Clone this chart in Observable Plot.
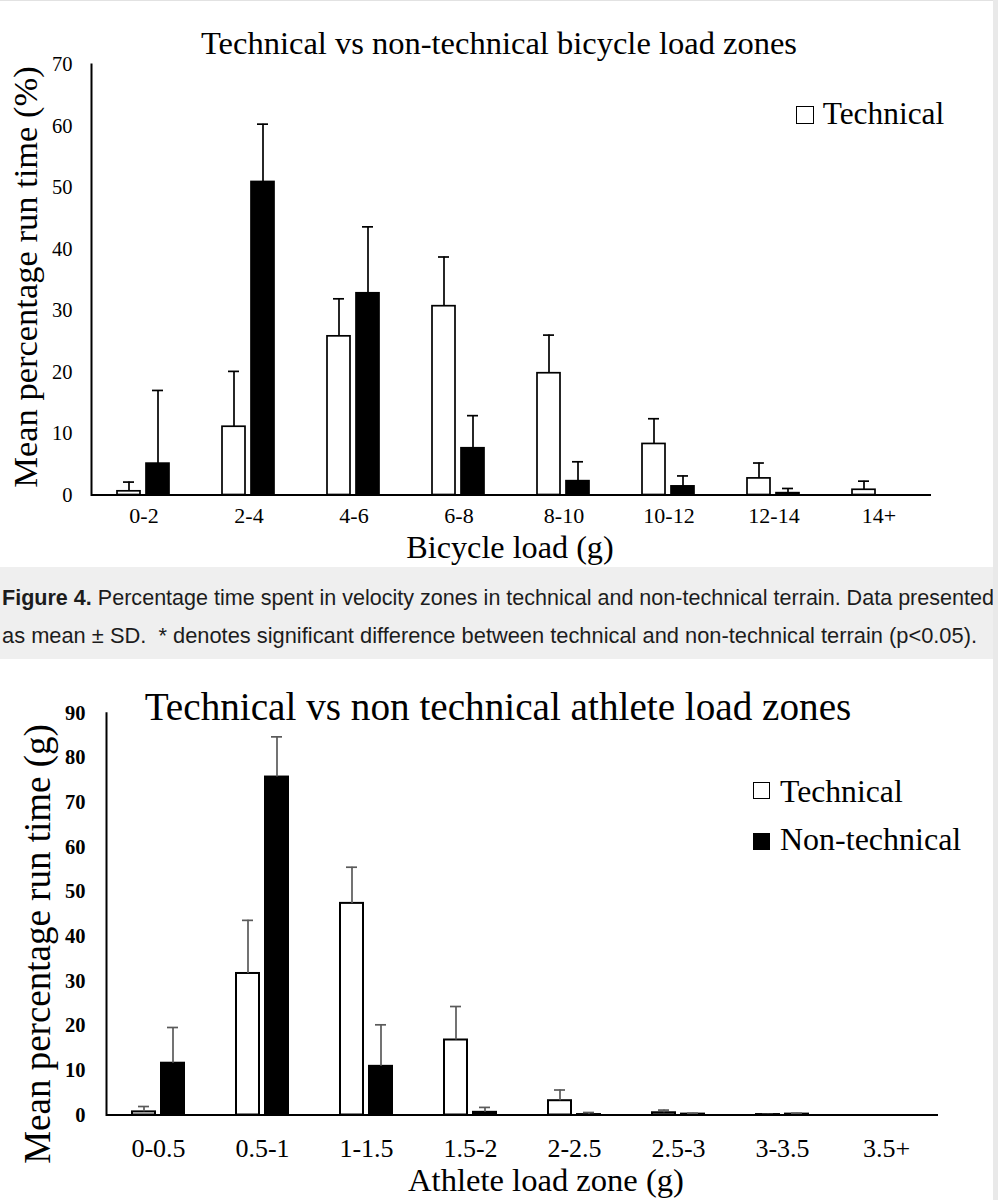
<!DOCTYPE html>
<html><head><meta charset="utf-8">
<script src="https://cdn.jsdelivr.net/npm/d3@7"></script>
<script src="https://cdn.jsdelivr.net/npm/@observablehq/plot@0.6"></script>
<style>
html,body{margin:0;padding:0;background:#e9e9e9;}
#page{width:993px;height:1200px;position:relative;background:#fff;color:#000;overflow:hidden;border-top:1px solid #e2e2e2;box-sizing:border-box;}
.panel{position:absolute;left:0;width:993px;}
.panel svg{position:absolute;left:0;top:0;}
.t{position:absolute;white-space:nowrap;line-height:0.7;}
.sq{position:absolute;box-sizing:border-box;border:1.6px solid #000;}
</style></head><body>
<div id="page">
  <div id="topPanel" class="panel" style="top:0;height:566px;"></div>
  <div id="capPanel" class="panel" style="top:566px;height:92px;background:#efefef;"></div>
  <div id="botPanel" class="panel" style="top:658px;height:542px;"></div>
</div>
<script>
// ---------- data ----------
const seriesNames = ["Technical", "Non-technical"];

const bikeZones    = ["0-2","2-4","4-6","6-8","8-10","10-12","12-14","14+"];
const bikeTechMean = [0.6, 11.1, 25.8, 30.7, 19.8, 8.3, 2.7, 0.85];
const bikeTechSD   = [1.5, 9.0, 6.1, 8.0, 6.2, 4.1, 2.5, 1.4];
const bikeNonMean  = [5.1, 50.9, 32.8, 7.6, 2.25, 1.4, 0.3, 0];
const bikeNonSD    = [11.9, 9.4, 10.8, 5.3, 3.15, 1.7, 0.76, 0];
const bikeYTicks   = [0, 10, 20, 30, 40, 50, 60, 70];

const athZones     = ["0-0.5","0.5-1","1-1.5","1.5-2","2-2.5","2.5-3","3-3.5","3.5+"];
const athTechMean  = [0.7, 31.7, 47.4, 16.8, 3.2, 0.5, 0.1, 0];
const athTechSD    = [1.2, 11.9, 8.1, 7.5, 2.4, 0.6, 0.05, 0];
const athNonMean   = [11.6, 75.7, 10.9, 0.6, 0.1, 0.2, 0.2, 0];
const athNonSD     = [8.0, 9.0, 9.3, 1.1, 0.46, 0.2, 0.2, 0];
const athYTicks    = [0, 10, 20, 30, 40, 50, 60, 70, 80, 90];

// ---------- helpers ----------
const SERIF = '"Liberation Serif","Times New Roman",serif';
const SANS = '"Liberation Sans",Arial,sans-serif';
// baseline offset from the box top for line-height 0.7
const ASC_SERIF = (0.7 - 1.107) / 2 + 0.891;
const ASC_SANS = (0.7 - 1.117) / 2 + 0.905;
function addText(parent, str, o) {
  const d = document.createElement("div");
  d.className = "t";
  d.textContent = str;
  const asc = o.family === SANS ? ASC_SANS : ASC_SERIF;
  d.style.fontFamily = o.family || SERIF;
  d.style.fontSize = o.size + "px";
  if (o.weight) d.style.fontWeight = o.weight;
  if (o.rotate) {
    d.style.left = (o.x - asc * o.size) + "px";
    d.style.top = o.y + "px";
    d.style.transformOrigin = "0 0";
    d.style.transform = "rotate(-90deg) translateX(-50%)";
  } else {
    d.style.top = (o.y - asc * o.size) + "px";
    d.style.left = o.x + "px";
    if (o.anchor === "middle") d.style.transform = "translateX(-50%)";
  }
  parent.appendChild(d);
  return d;
}
function addSquare(parent, x, y, s, fill) {
  const d = document.createElement("div");
  d.className = "sq";
  Object.assign(d.style, {left: x + "px", top: y + "px", width: s + "px", height: s + "px", background: fill});
  parent.appendChild(d);
}
function rows(zones, tm, ts, nm, ns) {
  const out = [];
  zones.forEach((z, i) => {
    out.push({zone: z, series: seriesNames[0], mean: tm[i], sd: ts[i]});
    out.push({zone: z, series: seriesNames[1], mean: nm[i], sd: ns[i]});
  });
  return out;
}
function chart(data, zones, o) {
  const err = data.filter(d => d.sd > 0);
  return Plot.plot({
    width: 993, height: o.height,
    marginLeft: o.ml, marginRight: o.mr, marginTop: o.mt, marginBottom: o.mb,
    style: {fontFamily: SERIF, color: "#000", background: "transparent", overflow: "visible"},
    fx: {domain: zones, padding: 0, label: null},
    x: {domain: seriesNames, paddingInner: 0.2, paddingOuter: 0.86, axis: null},
    y: {domain: [0, o.ymax], label: null},
    color: {domain: seriesNames, range: ["#ffffff", "#000000"]},
    marks: [
      Plot.barY(data, {fx: "zone", x: "series", y: "mean", fill: "series", stroke: "#000", strokeWidth: o.barStroke}),
      Plot.ruleX(err, {fx: "zone", x: "series", y1: "mean", y2: d => d.mean + d.sd, stroke: o.errColor, strokeWidth: 1.7}),
      Plot.tickY(err, {fx: "zone", x: "series", y: d => d.mean + d.sd, stroke: o.errColor, strokeWidth: 1.7, insetLeft: 6, insetRight: 6}),
      Plot.ruleY([0], {stroke: "#000", strokeWidth: 2}),
      Plot.frame({anchor: "left", facetAnchor: "left", stroke: "#000", strokeWidth: 2}),
      Plot.axisY({ticks: o.yticks, tickSize: 0, tickPadding: o.ypad, fontSize: o.yfs, fontWeight: o.yweight, label: null}),
      Plot.axisFx({anchor: "bottom", tickSize: 0, tickPadding: o.xpad, fontSize: o.xfs, label: null})
    ]
  });
}

// ---------- top chart ----------
const topEl = document.getElementById("topPanel");
topEl.appendChild(chart(rows(bikeZones, bikeTechMean, bikeTechSD, bikeNonMean, bikeNonSD), bikeZones, {
  height: 566, ml: 89, mr: 60, mt: 63, mb: 72.5, ymax: 70, yticks: bikeYTicks,
  ypad: 19, yfs: 20.5, yweight: "normal", xpad: 12, xfs: 22, errColor: "#000", barStroke: 1.7
}));
addText(topEl, "Technical vs non-technical bicycle load zones", {x: 499, y: 53, size: 32.5, anchor: "middle"});
addText(topEl, "Bicycle load (g)", {x: 510, y: 557, size: 32.2, anchor: "middle"});
addText(topEl, "Mean percentage run time (%)", {x: 37, y: 276, size: 34.5, rotate: true});
addSquare(topEl, 796, 105, 17.5, "#fff");
addText(topEl, seriesNames[0], {x: 822.7, y: 124, size: 31.4});

// ---------- caption ----------
const capEl = document.getElementById("capPanel");
function capLine(html, baseline, targetW) {
  const d = document.createElement("div");
  d.className = "t";
  d.innerHTML = html;
  d.style.fontFamily = SANS;
  d.style.fontSize = "22.5px";
  d.style.color = "#1c1c1c";
  d.style.left = "2px";
  d.style.top = (baseline - ASC_SANS * 22.5) + "px";
  d.style.transformOrigin = "0 0";
  capEl.appendChild(d);
  const w = d.getBoundingClientRect().width;
  d.style.transform = `scaleX(${targetW / w})`;
}
capLine("<b>Figure 4.</b> Percentage time spent in velocity zones in technical and non-technical terrain. Data presented", 38.5, 992);
capLine("as mean ± SD.&nbsp; * denotes significant difference between technical and non-technical terrain (p&lt;0.05).", 76.5, 975);

// ---------- bottom chart ----------
const botEl = document.getElementById("botPanel");
botEl.appendChild(chart(rows(athZones, athTechMean, athTechSD, athNonMean, athNonSD), athZones, {
  height: 542, ml: 103, mr: 53, mt: 53.7, mb: 86.5, ymax: 90, yticks: athYTicks,
  ypad: 21, yfs: 20.5, yweight: "bold", xpad: 23.5, xfs: 26, errColor: "#5a5a5a", barStroke: 2
}));
addText(botEl, "Technical vs non technical athlete load zones", {x: 498, y: 61, size: 39.2, anchor: "middle"});
addText(botEl, "Athlete load zone (g)", {x: 546, y: 532, size: 32.6, anchor: "middle"});
addText(botEl, "Mean percentage run time (g)", {x: 50, y: 285, size: 37, rotate: true});
addSquare(botEl, 752.7, 122.7, 17.5, "#fff");
addText(botEl, seriesNames[0], {x: 780, y: 143.7, size: 31.7});
addSquare(botEl, 752.7, 173.7, 17.5, "#000");
addText(botEl, seriesNames[1], {x: 780, y: 191.3, size: 32});
</script>
</body></html>
